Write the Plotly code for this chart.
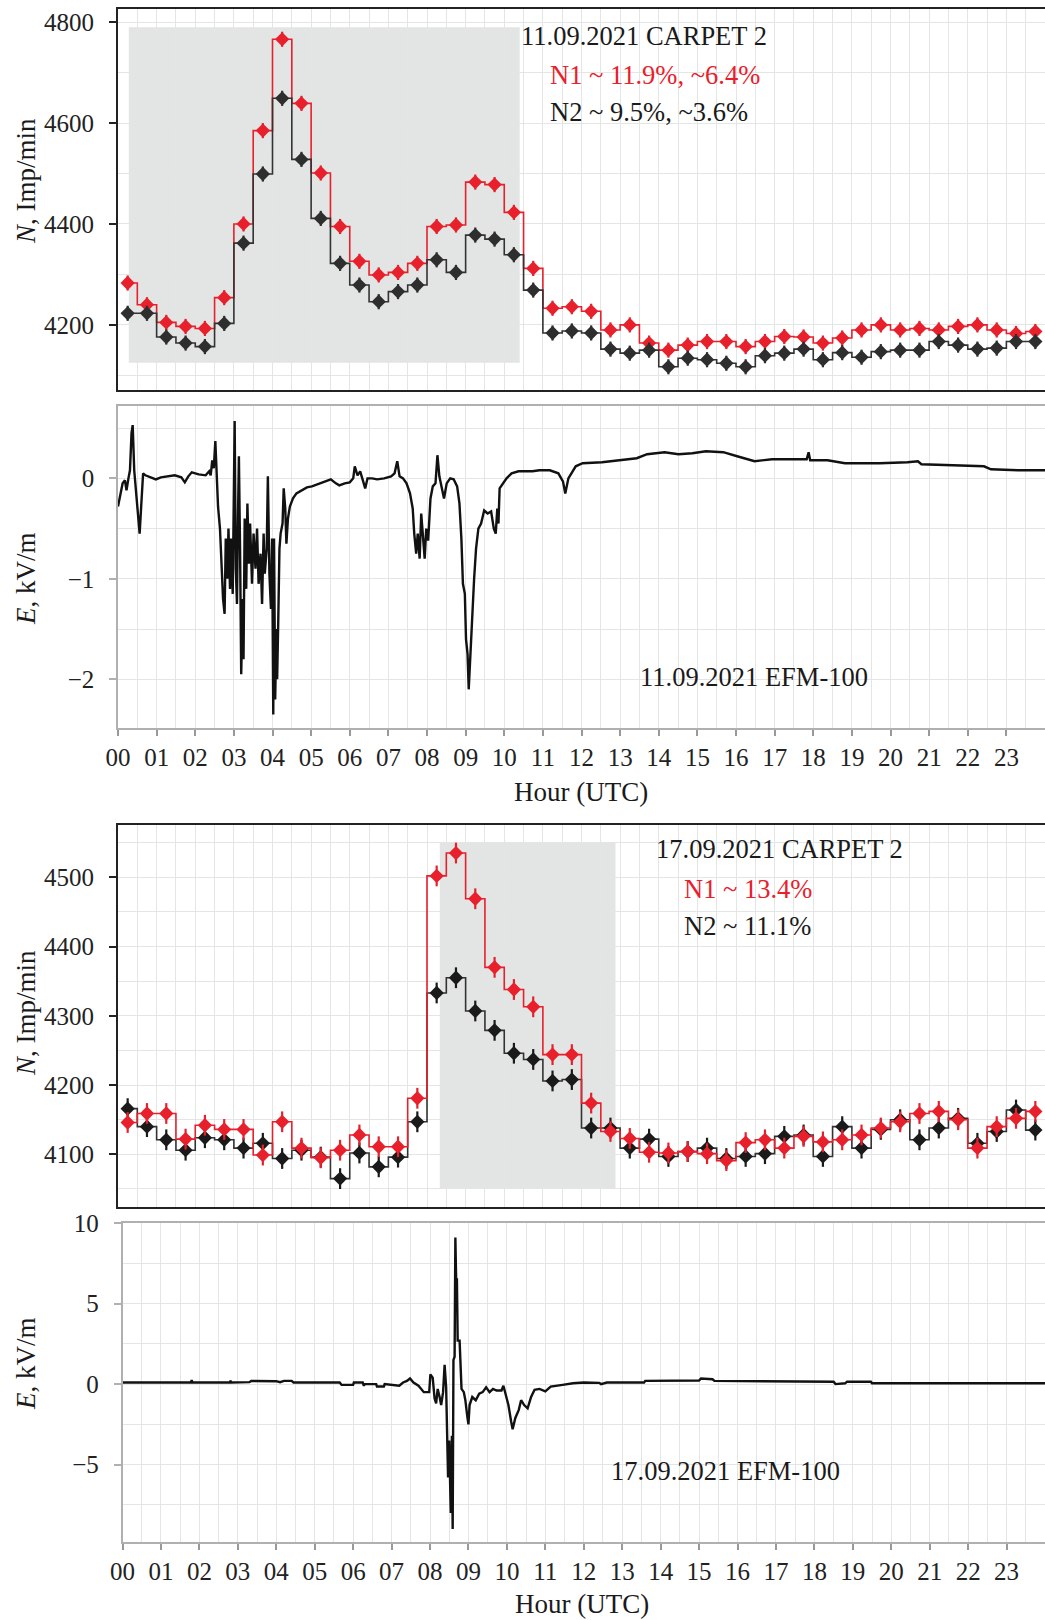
import plotly.graph_objects as go

# ---------------- data ----------------
hours_label = ["%02d" % h for h in range(24)]
# half-hour bins (centres)
t_bins = [0.25 + 0.5 * i for i in range(48)]

n1_0911 = [4283, 4240, 4205, 4197, 4193, 4254, 4400, 4585, 4766, 4639, 4501, 4395,
           4326, 4299, 4304, 4322, 4395, 4398, 4483, 4478, 4423, 4312, 4233, 4236,
           4227, 4190, 4200, 4164, 4150, 4160, 4167, 4167, 4157, 4167, 4177, 4176,
           4164, 4174, 4190, 4200, 4190, 4193, 4190, 4197, 4200, 4190, 4183, 4187]
n2_0911 = [4223, 4223, 4176, 4164, 4157, 4203, 4362, 4499, 4649, 4528, 4411, 4322,
           4279, 4246, 4266, 4279, 4329, 4304, 4378, 4370, 4339, 4269, 4184, 4188,
           4184, 4152, 4144, 4150, 4117, 4134, 4131, 4124, 4117, 4139, 4144, 4152,
           4131, 4145, 4136, 4147, 4150, 4150, 4167, 4160, 4152, 4154, 4167, 4167]

n1_0917 = [4146, 4159, 4159, 4122, 4142, 4136, 4136, 4099, 4147, 4109, 4095, 4106,
           4128, 4111, 4111, 4181, 4502, 4535, 4469, 4370, 4338, 4313, 4244, 4244,
           4174, 4133, 4123, 4103, 4102, 4104, 4101, 4091, 4117, 4121, 4109, 4126,
           4118, 4121, 4128, 4138, 4147, 4159, 4162, 4150, 4109, 4140, 4152, 4162]
n2_0917 = [4166, 4140, 4121, 4106, 4124, 4121, 4109, 4116, 4094, 4106, 4096, 4065,
           4102, 4082, 4096, 4147, 4333, 4355, 4307, 4279, 4246, 4237, 4206, 4208,
           4138, 4138, 4109, 4122, 4097, 4104, 4109, 4094, 4097, 4101, 4126, 4128,
           4097, 4140, 4109, 4136, 4150, 4121, 4138, 4152, 4116, 4133, 4164, 4135]

# statistical error of the count rates (Imp/min)
n_err = 15

# shaded intervals [t0, t1, n0, n1]
shade_0911 = [0.28, 10.4, 4125, 4790]
shade_0917 = [8.33, 12.88, 4050, 4550]

# electric field EFM-100, 11.09.2021 (hour, kV/m)
e1_t = [0.00, 0.06, 0.12, 0.18, 0.22, 0.27, 0.31, 0.35, 0.38, 0.42, 0.47, 0.52, 0.56, 0.60, 0.65,
        0.71, 0.84, 0.98, 1.11, 1.29, 1.47, 1.64, 1.73, 1.82, 1.91, 2.09, 2.27, 2.36, 2.40, 2.44,
        2.48, 2.52, 2.55, 2.59, 2.64, 2.68, 2.72, 2.76, 2.79, 2.83, 2.86, 2.90, 2.93, 2.97, 3.00,
        3.02, 3.05, 3.08, 3.11, 3.13, 3.16, 3.19, 3.23, 3.25, 3.28, 3.32, 3.35, 3.39, 3.42, 3.47,
        3.51, 3.56, 3.60, 3.64, 3.69, 3.73, 3.77, 3.80, 3.85, 3.88, 3.92, 3.96, 3.99, 4.02, 4.04,
        4.07, 4.10, 4.12, 4.15, 4.18, 4.21, 4.26, 4.29, 4.33, 4.36, 4.40, 4.45, 4.53, 4.62, 4.76,
        4.89, 5.02, 5.16, 5.33, 5.51, 5.64, 5.73, 5.87, 6.00, 6.09, 6.13, 6.20, 6.27, 6.34, 6.40,
        6.46, 6.58, 6.71, 6.89, 7.07, 7.16, 7.23, 7.29, 7.38, 7.47, 7.56, 7.63, 7.67, 7.72, 7.76,
        7.81, 7.85, 7.90, 7.94, 7.98, 8.03, 8.09, 8.15, 8.22, 8.27, 8.32, 8.38, 8.44, 8.51, 8.60,
        8.69, 8.78, 8.84, 8.89, 8.93, 8.98, 9.01, 9.05, 9.08, 9.12, 9.16, 9.22, 9.27, 9.33, 9.40,
        9.48, 9.57, 9.66, 9.73, 9.78, 9.82, 9.85, 9.88, 9.97, 10.06, 10.19, 10.37, 10.73, 10.91, 11.18,
        11.40, 11.52, 11.58, 11.66, 11.85, 12.03, 12.53, 12.98, 13.43, 13.70, 14.15, 14.51, 14.87, 15.22, 15.67,
        16.03, 16.30, 16.48, 16.93, 17.47, 17.83, 17.88, 17.92, 18.37, 18.82, 19.27, 19.72, 20.44, 20.71, 20.80,
        21.52, 22.42, 22.60, 23.31, 24.00]
e1_v = [-0.28, -0.15, -0.05, -0.02, -0.12, 0.00, 0.08, 0.45, 0.53, 0.08, -0.15, -0.30, -0.55, -0.28, 0.05,
        0.03, 0.01, -0.01, 0.01, 0.02, 0.03, 0.01, -0.04, 0.02, 0.06, 0.04, 0.03, 0.07, 0.03, 0.18,
        0.10, 0.37, 0.05, -0.28, -0.50, -0.85, -1.20, -1.35, -0.60, -1.00, -0.50, -1.10, -0.60, -1.15, -0.10,
        0.57, -0.90, -1.25, -0.30, 0.22, -0.70, -1.95, -1.20, -1.80, -0.40, -1.10, -0.25, -0.85, -0.45, -1.05,
        -0.55, -0.90, -0.50, -1.05, -0.75, -1.25, -0.55, -0.95, -0.70, 0.02, -0.95, -1.30, -0.60, -2.35, -0.60,
        -2.20, -1.50, -2.00, -1.40, -0.70, -0.55, -0.45, -0.10, -0.30, -0.65, -0.40, -0.28, -0.20, -0.15, -0.12,
        -0.09, -0.08, -0.06, -0.03, -0.01, -0.05, -0.07, -0.05, -0.04, 0.00, 0.12, 0.03, 0.07, -0.02, -0.10,
        0.00, 0.00, -0.01, 0.00, 0.02, 0.05, 0.17, 0.02, 0.00, -0.05, -0.15, -0.30, -0.55, -0.75, -0.55,
        -0.80, -0.35, -0.60, -0.80, -0.50, -0.62, -0.20, -0.08, -0.05, 0.23, 0.02, -0.08, -0.20, -0.05, 0.00,
        -0.01, -0.08, -0.25, -0.60, -1.05, -1.15, -1.60, -1.75, -2.10, -1.75, -1.45, -1.00, -0.70, -0.50, -0.45,
        -0.32, -0.35, -0.33, -0.50, -0.55, -0.30, -0.45, -0.10, -0.05, 0.00, 0.05, 0.07, 0.07, 0.08, 0.08,
        0.05, -0.03, -0.15, 0.00, 0.12, 0.15, 0.16, 0.18, 0.20, 0.24, 0.26, 0.24, 0.25, 0.27, 0.26,
        0.22, 0.19, 0.17, 0.19, 0.19, 0.19, 0.26, 0.18, 0.18, 0.15, 0.15, 0.15, 0.16, 0.17, 0.14,
        0.13, 0.12, 0.09, 0.08, 0.08]

# electric field EFM-100, 17.09.2021 (hour, kV/m)
e2_t = [0.00, 1.78, 1.80, 1.82, 2.80, 2.81, 2.83, 3.30, 3.35, 4.00, 4.10, 4.20, 4.40, 4.45, 5.65,
        5.70, 6.00, 6.02, 6.25, 6.28, 6.30, 6.60, 6.62, 6.80, 6.82, 7.20, 7.30, 7.40, 7.48, 7.57,
        7.70, 7.84, 7.98, 8.01, 8.07, 8.12, 8.16, 8.20, 8.25, 8.29, 8.34, 8.38, 8.42, 8.45, 8.47,
        8.50, 8.52, 8.54, 8.57, 8.59, 8.61, 8.64, 8.66, 8.68, 8.70, 8.72, 8.77, 8.79, 8.82, 8.88,
        8.92, 8.97, 9.00, 9.03, 9.10, 9.19, 9.28, 9.37, 9.46, 9.55, 9.64, 9.73, 9.86, 9.91, 9.96,
        10.04, 10.11, 10.15, 10.22, 10.31, 10.37, 10.45, 10.54, 10.63, 10.72, 10.85, 11.00, 11.14, 11.45, 11.72,
        12.00, 12.40, 12.45, 12.55, 12.60, 13.57, 13.60, 15.00, 15.05, 15.35, 15.40, 18.50, 18.55, 18.80, 18.85,
        19.47, 19.50, 24.00]
e2_v = [0.10, 0.10, 0.25, 0.10, 0.10, 0.22, 0.10, 0.12, 0.20, 0.18, 0.12, 0.20, 0.20, 0.10, 0.10,
        -0.05, -0.05, 0.10, 0.10, -0.10, 0.00, 0.00, -0.15, -0.15, 0.00, -0.10, 0.10, 0.20, 0.35, 0.10,
        -0.10, -0.50, -0.50, 0.60, 0.40, -0.90, -1.20, -0.30, -0.80, -1.30, -0.50, 1.20, -0.20, -3.50, -5.80,
        -3.50, -6.20, -8.00, -3.20, -9.00, 1.50, 1.70, 9.10, 6.50, 6.50, 2.70, 2.70, 1.50, -0.30, -0.50,
        -1.00, -2.00, -2.50, -1.30, -0.80, -1.00, -0.60, -0.50, -0.20, -0.50, -0.30, -0.40, -0.40, -0.10, -0.50,
        -1.30, -2.30, -2.80, -2.10, -1.60, -1.00, -1.30, -1.50, -0.80, -0.35, -0.30, -0.45, -0.15, -0.05, 0.05,
        0.10, 0.08, 0.00, 0.05, 0.10, 0.10, 0.20, 0.22, 0.35, 0.30, 0.20, 0.15, 0.00, 0.05, 0.15,
        0.15, 0.05, 0.05]

# ---------------- styling ----------------
W, H = 1045, 1620
FONT = "Liberation Serif"
RED = "#e8202c"
GRID = "#e4e6e6"


def py(p):  # pixel-from-top -> paper fraction
    return 1 - p / H


def px(p):
    return p / W


fig = go.Figure()

# panel 1 : CARPET 2, 11.09
for vals, col, mcol in [(n1_0911, RED, RED), (n2_0911, "#333333", "#2e2e2e")]:
    fig.add_trace(go.Scatter(x=t_bins, y=vals, mode="lines+markers", xaxis="x", yaxis="y",
                             line=dict(shape="hvh", color=col, width=1.6),
                             marker=dict(symbol="diamond", size=11, color=mcol),
                             error_y=dict(type="constant", value=n_err, thickness=2.2, width=0, color=mcol),
                             showlegend=False))
# panel 2 : E 11.09
fig.add_trace(go.Scatter(x=e1_t, y=e1_v, mode="lines", xaxis="x2", yaxis="y2",
                         line=dict(color="#111", width=2.4), showlegend=False))
# panel 3 : CARPET 2, 17.09
for vals, col, mcol in [(n2_0917, "#333333", "#1a1a1a"), (n1_0917, RED, RED)]:
    fig.add_trace(go.Scatter(x=t_bins, y=vals, mode="lines+markers", xaxis="x3", yaxis="y3",
                             line=dict(shape="hvh", color=col, width=1.6),
                             marker=dict(symbol="diamond", size=11, color=mcol),
                             error_y=dict(type="constant", value=n_err, thickness=2.2, width=0, color=mcol),
                             showlegend=False))
# panel 4 : E 17.09
fig.add_trace(go.Scatter(x=e2_t, y=e2_v, mode="lines", xaxis="x4", yaxis="y4",
                         line=dict(color="#111", width=2.4), showlegend=False))

tickfont = dict(family=FONT, size=25, color="#222")


def xaxis(dom_left, labels, linecol, lw, anchor):
    d = dict(domain=[px(dom_left), 1.0], range=[0, 24], tickmode="array",
             tickvals=list(range(24)), ticktext=hours_label, showgrid=True, gridcolor=GRID,
             gridwidth=1, zeroline=False, showline=True, linecolor=linecol, linewidth=lw,
             mirror=True, tickfont=tickfont, fixedrange=True, automargin=False, anchor=anchor,
             minor=dict(dtick=0.5, tick0=0, showgrid=True, gridcolor=GRID, ticks=""))
    if labels:
        d.update(ticks="outside", ticklen=6, tickcolor="#999", tickwidth=1.5, showticklabels=True)
    else:
        d.update(ticks="", showticklabels=False)
    return d


def yaxis(dom, rng, tvals, minor_dt, linecol, lw, anchor):
    return dict(domain=dom, range=rng, tickmode="array", tickvals=tvals,
                showgrid=True, gridcolor=GRID, zeroline=False, showline=True,
                linecolor=linecol, linewidth=lw, mirror=False, ticks="outside", ticklen=7,
                tickcolor=linecol, tickwidth=1.5, tickfont=tickfont, anchor=anchor,
                ticklabelstandoff=10, fixedrange=True, automargin=False,
                minor=dict(dtick=minor_dt, showgrid=True, gridcolor=GRID, ticks=""))


dom1 = [py(390), py(9)]
dom2 = [py(728), py(406)]
dom3 = [py(1207), py(825)]
dom4 = [py(1542), py(1223)]

fig.update_layout(
    template="none",
    width=W, height=H, margin=dict(l=0, r=0, t=0, b=0, autoexpand=False),
    paper_bgcolor="white", plot_bgcolor="white",
    font=dict(family=FONT, size=25, color="#222"),
    xaxis=xaxis(118, False, "#222", 2, "y"),
    yaxis=yaxis(dom1, [4071, 4826], [4200, 4400, 4600, 4800], 100, "#222", 2, "x"),
    xaxis2=xaxis(118, True, "#b0b0b0", 1.5, "y2"),
    yaxis2=yaxis(dom2, [-2.485, 0.72], [-2, -1, 0], 0.5, "#b0b0b0", 1.5, "x2"),
    xaxis3=xaxis(118, False, "#222", 2, "y3"),
    yaxis3=yaxis(dom3, [4024, 4575.5], [4100, 4200, 4300, 4400, 4500], 50, "#222", 2, "x3"),
    xaxis4=xaxis(122.5, True, "#b0b0b0", 1.5, "y4"),
    yaxis4=yaxis(dom4, [-9.8, 10], [-5, 0, 5, 10], 2.5, "#b0b0b0", 1.5, "x4"),
)

# shaded periods
for (t0, t1, n0, n1), xr, yr in [(shade_0911, "x", "y"), (shade_0917, "x3", "y3")]:
    fig.add_shape(type="rect", xref=xr, yref=yr, x0=t0, x1=t1, y0=n0, y1=n1,
                  fillcolor="#e3e5e4", line=dict(width=0), layer="below")


def ann(text, x, y, color="#1a1a1a", xanchor="left", size=26.5, angle=0):
    fig.add_annotation(text=text, x=px(x), y=py(y), xref="paper", yref="paper",
                       showarrow=False, xanchor=xanchor, yanchor="middle", textangle=angle,
                       font=dict(family=FONT, size=size, color=color))


ann("11.09.2021 CARPET 2", 519, 36)
ann("N1 ~ 11.9%, ~6.4%", 548, 75, color=RED)
ann("N2 ~ 9.5%, ~3.6%", 548, 112)
ann("11.09.2021 EFM-100", 754, 677, xanchor="center")
ann("17.09.2021 CARPET 2", 654, 849)
ann("N1 ~ 13.4%", 682, 889, color=RED)
ann("N2 ~ 11.1%", 682, 926)
ann("17.09.2021 EFM-100", 725, 1471, xanchor="center")

ann("<i>N</i>, Imp/min", 26, 181, xanchor="center", angle=-90, size=27)
ann("<i>E</i>, kV/m", 26, 579, xanchor="center", angle=-90, size=27)
ann("<i>N</i>, Imp/min", 26, 1013, xanchor="center", angle=-90, size=27)
ann("<i>E</i>, kV/m", 26, 1364, xanchor="center", angle=-90, size=27)
ann("Hour (UTC)", 581, 792, xanchor="center", size=27)
ann("Hour (UTC)", 582, 1604, xanchor="center", size=27)

fig.write_html("out.html", config={"displayModeBar": False},
               post_script="document.body.style.margin='0';document.body.style.overflow='hidden';")
